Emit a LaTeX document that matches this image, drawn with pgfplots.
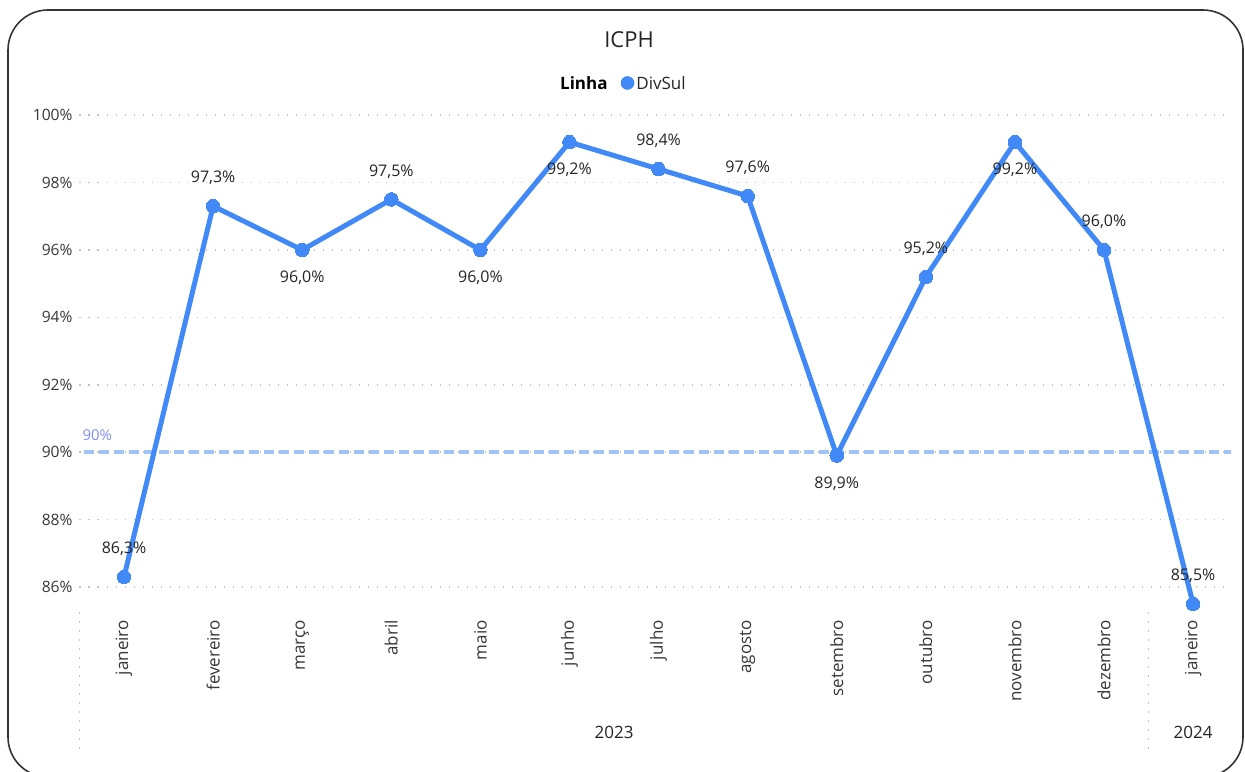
\documentclass[border=0pt]{standalone}
\usepackage{pgfplots}
\pgfplotsset{compat=1.18}
\usepackage{fontspec}
\setmainfont{Open Sans}
\definecolor{lineblue}{RGB}{65,137,247}
\definecolor{refblue}{RGB}{160,195,250}
\definecolor{reftext}{RGB}{130,140,250}
\definecolor{txt}{RGB}{37,36,35}
\definecolor{ticktxt}{RGB}{55,55,55}
\definecolor{gridc}{RGB}{195,195,195}

\begin{document}
\begin{tikzpicture}
\path[use as bounding box] (0,0) rectangle (622.5pt,385.5pt);
\begin{axis}[
  at={(39.75pt,81.9pt)}, anchor=south west,
  scale only axis, width=575.5pt, height=249.4pt,
  xmin=-0.5, xmax=12.42, ymin=85.4, ymax=100.2,
  axis line style={draw=none}, tick style={draw=none},
  ytick={86,88,...,100},
  yticklabel={\pgfmathprintnumber{\tick}\%},
  ymajorgrids,
  grid style={gridc, line width=0.8pt, dash pattern=on 0.8pt off 3.7pt},
  xtick={0,...,12},
  xticklabels={janeiro,fevereiro,março,abril,maio,junho,julho,agosto,setembro,outubro,novembro,dezembro,janeiro},
  x tick label style={rotate=90, anchor=east, font=\fontsize{8.5}{10}\selectfont, text=ticktxt},
  xticklabel shift=3pt,
  y tick label style={font=\fontsize{7.8}{9}\selectfont, text=ticktxt},
  /pgf/number format/assume math mode=true,
  clip=false,
  lbl/.style={draw=none, mark=none, forget plot,
    nodes near coords={\pgfmathprintnumber[fixed,fixed zerofill,precision=1,use comma]{\pgfplotspointmeta}\%},
    every node near coord/.append style={anchor=center, yshift=#1, font=\fontsize{8}{10}\selectfont, text=txt}},
]
\addplot[refblue, line width=2pt, dash pattern=on 5pt off 2.5pt, forget plot] coordinates {(-0.45,90) (12.42,90)};
\addplot[lineblue, line width=2.5pt, mark=*, mark size=3.4pt,
  mark options={fill=lineblue, draw=lineblue, line width=0pt}]
  coordinates {(0,86.3) (1,97.3) (2,96.0) (3,97.5) (4,96.0) (5,99.2) (6,98.4) (7,97.6) (8,89.9) (9,95.2) (10,99.2) (11,96.0) (12,85.5)};
% labels above the points
\addplot[lbl=14pt] coordinates {(0,86.3) (1,97.3) (3,97.5) (6,98.4) (7,97.6) (9,95.2) (11,96.0) (12,85.5)};
% labels below the points
\addplot[lbl=-14pt] coordinates {(2,96.0) (4,96.0) (5,99.2) (8,89.9) (10,99.2)};
\node[anchor=west, text=reftext, font=\fontsize{7.5}{9}\selectfont, inner sep=0pt] at (axis cs:-0.47,90.5) {90\%};
\draw[gridc, line width=0.8pt, dash pattern=on 0.8pt off 3.7pt] (axis cs:-0.5,85.25) -- (axis cs:-0.5,81.2);
\draw[gridc, line width=0.8pt, dash pattern=on 0.8pt off 3.7pt] (axis cs:11.5,85.25) -- (axis cs:11.5,81.2);
\node[font=\fontsize{8.5}{10}\selectfont, text=txt] at (axis cs:5.5,81.67) {2023};
\node[font=\fontsize{8.5}{10}\selectfont, text=txt] at (axis cs:12,81.67) {2024};
\end{axis}
\begin{scope}[x=0.5pt,y=-0.5pt,shift={(0pt,385.5pt)}]
\draw[black!80, line width=0.8pt, rounded corners=20pt] (8,10) rectangle (1243,777);
\node[font=\fontsize{11}{13}\selectfont, text=txt] at (629,40) {ICPH};
\node[font=\bfseries\fontsize{8.5}{10}\selectfont, anchor=east, text=black, inner sep=0pt] at (608,83) {Linha};
\fill[lineblue] (627.5,83) circle (3.4pt);
\node[anchor=west, font=\fontsize{8.5}{10}\selectfont, text=txt, inner sep=0pt] at (636,83) {DivSul};
\end{scope}
\end{tikzpicture}
\end{document}
